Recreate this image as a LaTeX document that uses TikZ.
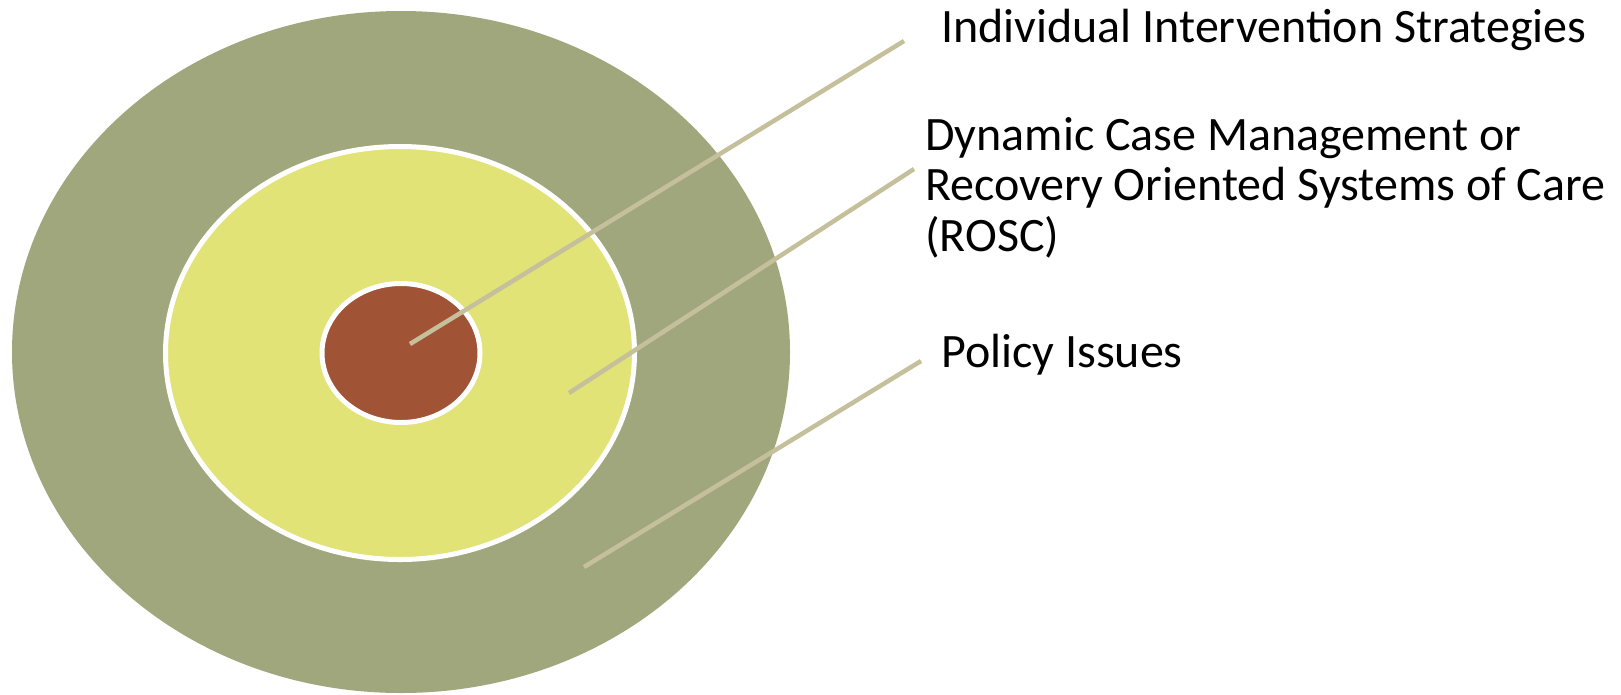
\documentclass[tikz,border=0pt]{standalone}
\usepackage{fontspec}
\setmainfont{Carlito}
\usetikzlibrary{shapes.geometric}

\definecolor{ringolive}{HTML}{A0A77C}
\definecolor{ringyellow}{HTML}{E1E377}
\definecolor{ringbrown}{HTML}{A15336}
\definecolor{leadertan}{HTML}{C5C09B}

\begin{document}
\begin{tikzpicture}[x=1pt,y=-1pt,
    ring/.style={ellipse,inner sep=0pt},
    leader/.style={draw=leadertan,line width=4.5pt},
    caption/.style={inner sep=0pt,align=left,font=\fontsize{48}{50.5}\selectfont}]
    \useasboundingbox (0,0) rectangle (1621,694);
    \node[ring,fill=ringolive,minimum width=778pt,minimum height=682pt] (policy) at (401,352) {};
    \node[ring,fill=ringyellow,draw=white,line width=5pt,minimum width=469pt,minimum height=413pt] (rosc) at (400,353) {};
    \node[ring,fill=ringbrown,draw=white,line width=5pt,minimum width=158pt,minimum height=139pt] (indiv) at (401,353) {};
    \coordinate (indivin) at (410,344);
    \coordinate (roscin) at (569,393);
    \coordinate (policyin) at (584,567);
    \coordinate (indivout) at (904,41);
    \coordinate (roscout) at (914,169);
    \coordinate (policyout) at (921,361);
    \node[caption,anchor=base west] (indivtext) at (941,42) {Individual Intervention Strategies};
    \node[caption,anchor=north west] (rosctext) at (925,117) {Dynamic Case Management or\\Recovery Oriented Systems of Care\\(ROSC)};
    \node[caption,anchor=base west] (policytext) at (941,367) {Policy Issues};
    \path[leader]
    (indivin) edge (indivout)
    (roscin) edge (roscout)
    (policyin) edge (policyout);
  \end{tikzpicture}
\end{document}
